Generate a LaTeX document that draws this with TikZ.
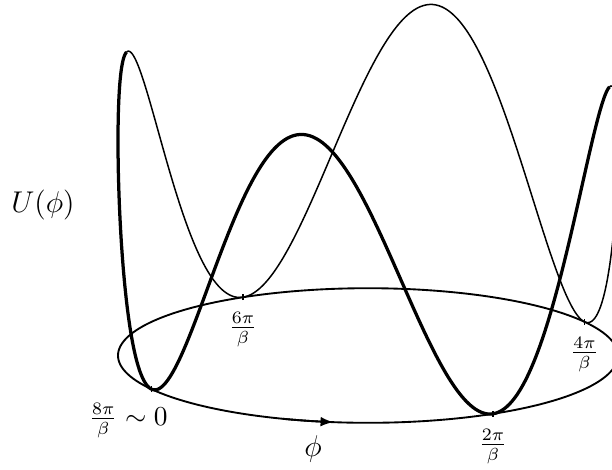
\documentclass[tikz,border=0pt]{standalone}
\usetikzlibrary{arrows,positioning}

\begin{document}
\begin{tikzpicture}[x=0.4pt,y=0.4pt,
  front/.style={line width=1.3pt},
  back/.style={line width=0.6pt},
  ring/.style={line width=0.75pt},
  tick/.style={line width=0.5pt}]
\useasboundingbox (0,0) rectangle (612,469);
\clip (0,0) rectangle (612,469);
\def\cx{368} \def\cy{113.5} \def\ra{250} \def\rb{67.3} \def\hU{286}

\draw[ring] plot[domain=0:360,samples=181,smooth] ({\cx+\ra*cos(\x)},{\cy+\rb*sin(\x)});
\draw[ring,-latex] plot[domain=250:262,samples=7,smooth] ({\cx+\ra*cos(\x)},{\cy+\rb*sin(\x)});

\draw[front] plot[domain=-45:135,samples=241,smooth]
  ({\cx+\ra*cos(210+\x)},{\cy+\rb*sin(210+\x)+\hU*(1-cos(4*\x))/2});
\draw[back] plot[domain=135:315,samples=241,smooth]
  ({\cx+\ra*cos(210+\x)},{\cy+\rb*sin(210+\x)+\hU*(1-cos(4*\x))/2});

\foreach \n in {0,1,2,3} {
  \coordinate (m\n) at ({\cx+\ra*cos(210+90*\n)},{\cy+\rb*sin(210+90*\n)});
  \draw[tick] (m\n) ++(0,-3) -- ++(0,6);
}

\node[font=\fontsize{10.5}{12}\selectfont,below left=2pt and -10pt of m0] (l0) {$\frac{8\pi}{\beta}\sim 0$};
\node[font=\fontsize{10.5}{12}\selectfont,below=2.5pt of m1] (l1) {$\frac{2\pi}{\beta}$};
\node[font=\fontsize{10.5}{12}\selectfont,below=2.5pt of m2] (l2) {$\frac{4\pi}{\beta}$};
\node[font=\fontsize{10.5}{12}\selectfont,below=2.5pt of m3] (l3) {$\frac{6\pi}{\beta}$};

\node[font=\large] (U) at (43,264) {$U(\phi)$};
\node[font=\large] (phi) at (313,20) {$\phi$};
\end{tikzpicture}
\end{document}
